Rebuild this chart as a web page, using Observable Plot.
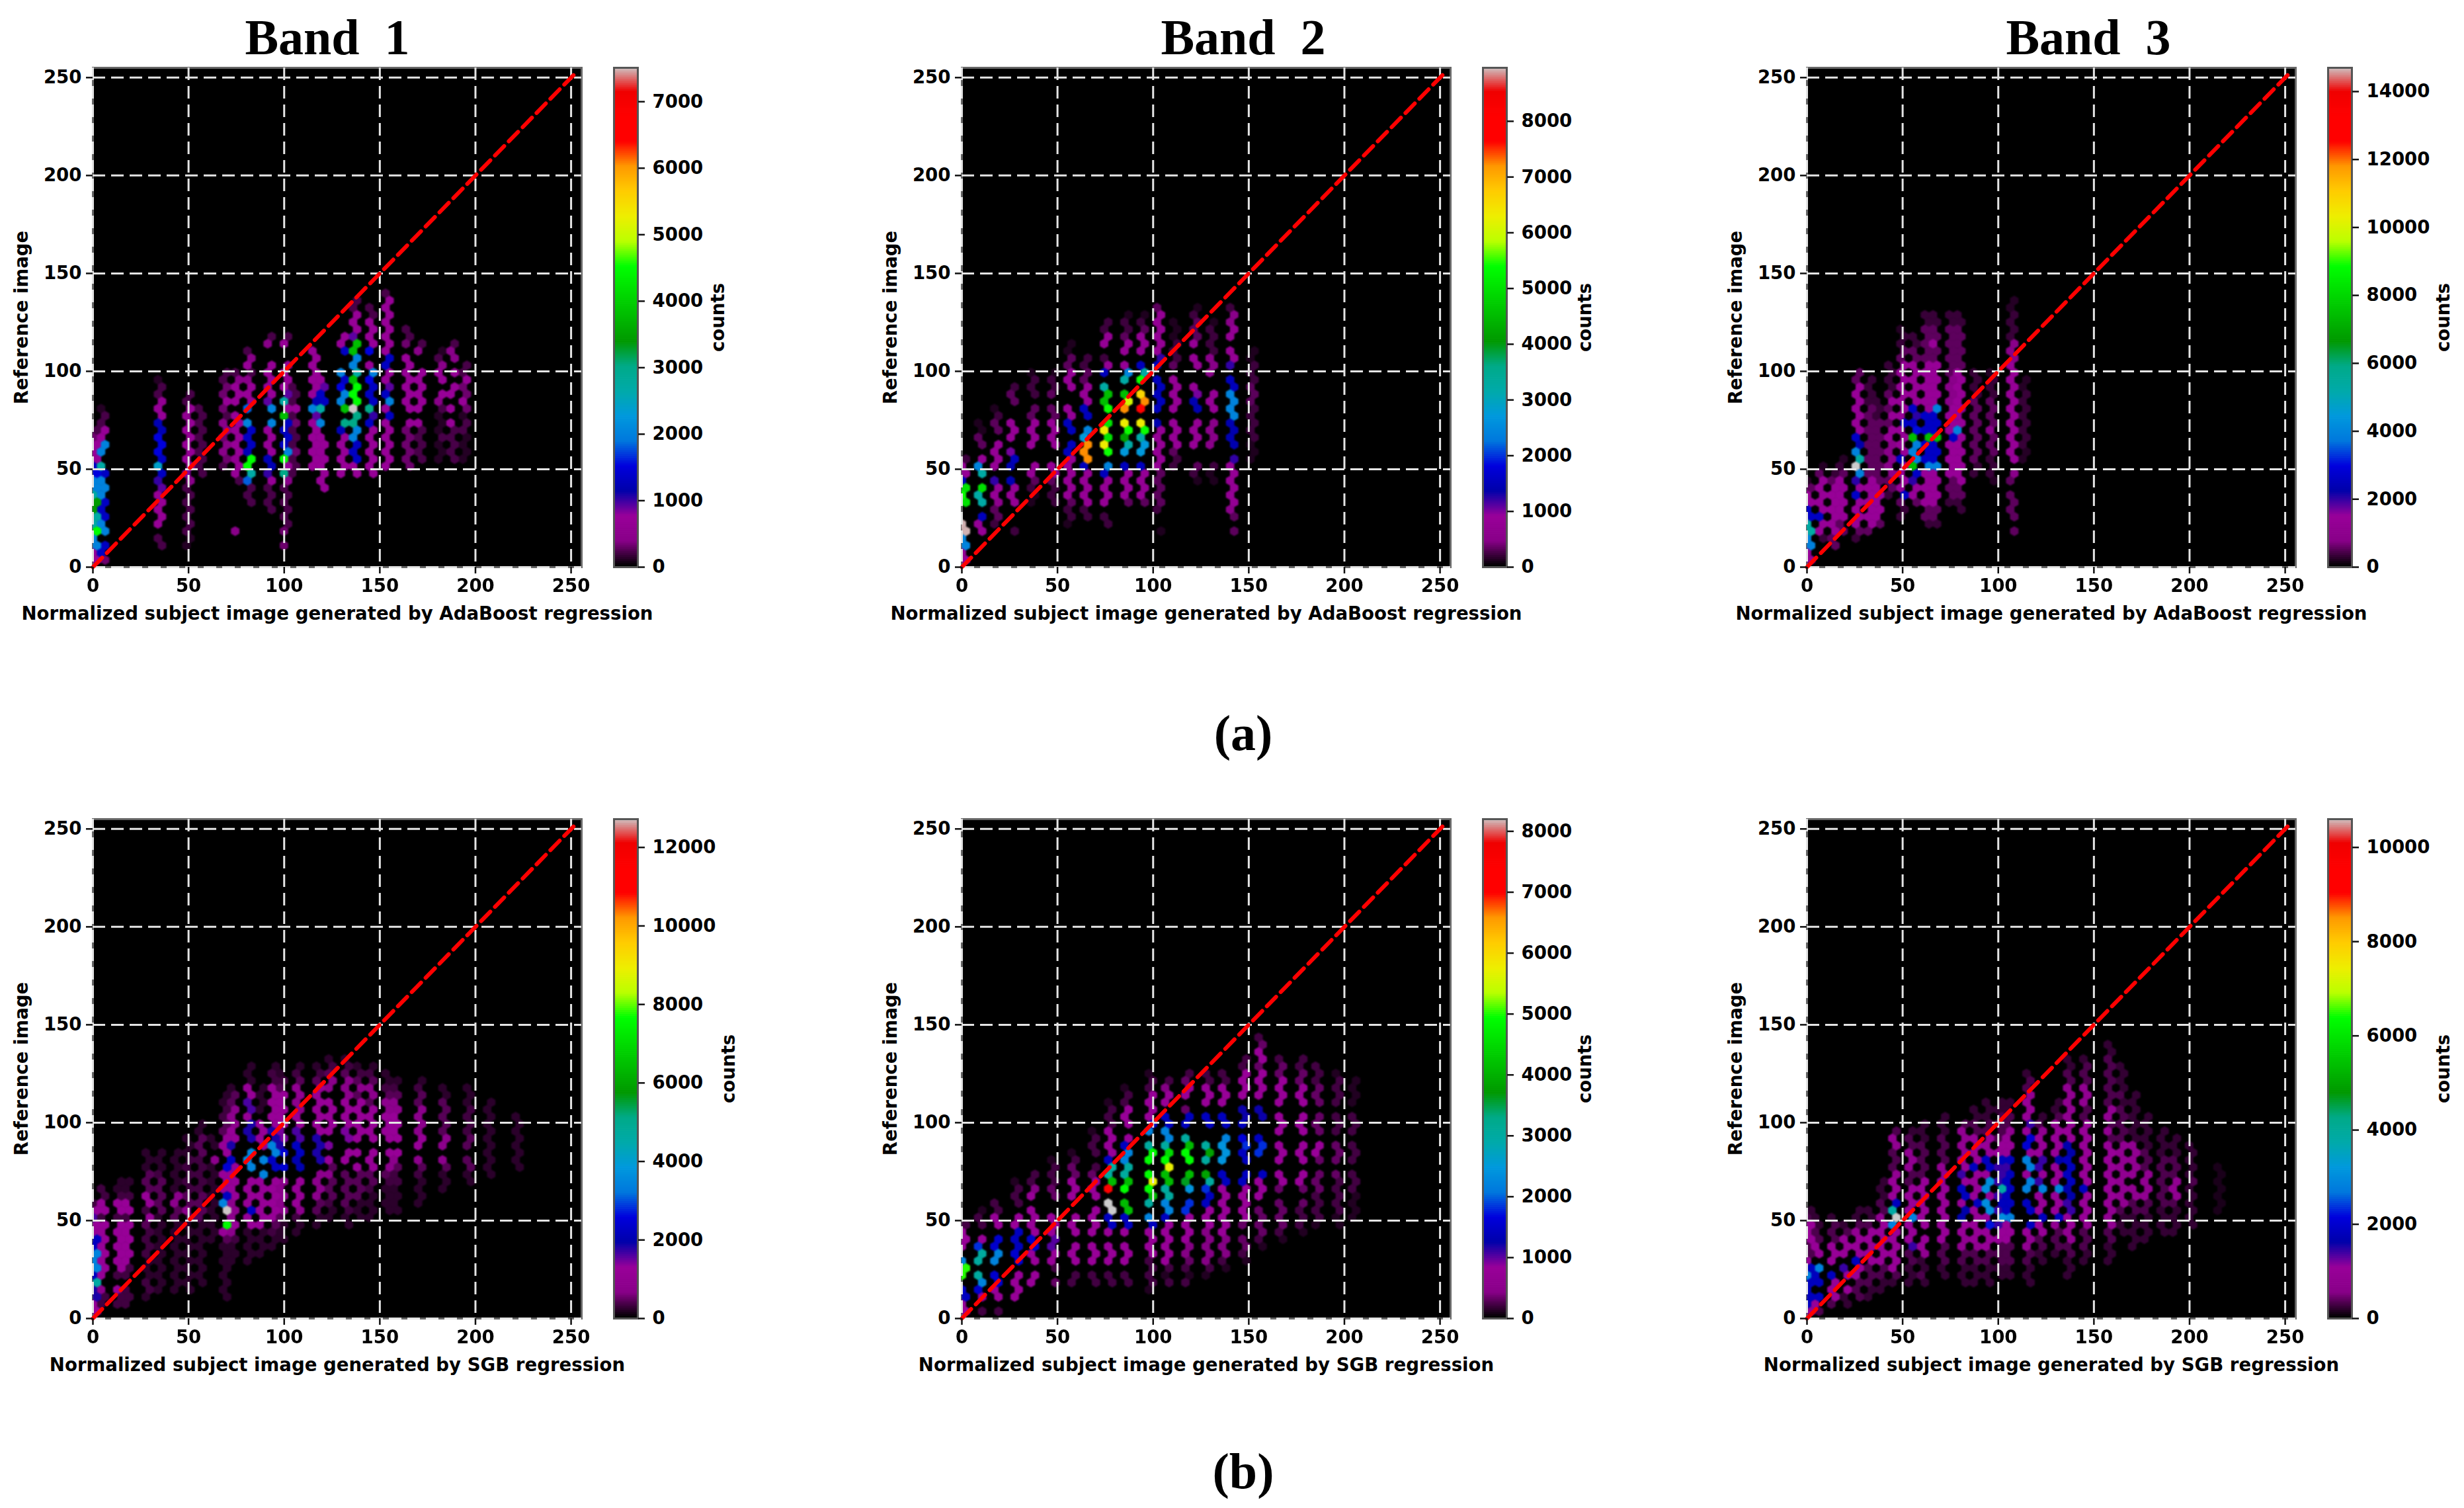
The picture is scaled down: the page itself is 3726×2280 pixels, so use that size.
<!DOCTYPE html>
<html><head><meta charset="utf-8">
<script src="https://cdn.jsdelivr.net/npm/d3@7"></script>
<script src="https://cdn.jsdelivr.net/npm/@observablehq/plot@0.6"></script>
<style>
html,body{margin:0;background:#fff}
#fig{position:relative;width:3726px;height:2280px;overflow:hidden}
#fig svg{position:absolute;overflow:visible;background:transparent}
.t{position:absolute;font-family:"Liberation Serif",serif;font-weight:700;color:#000;font-size:76px;line-height:1;white-space:pre;transform:translateX(-50%)}
</style></head><body><div id="fig"></div>
<script>
// Hexbin cells: [x centre of a column, first hexagon row, counts in hundreds, row by row]
const cellsA1=[
[1.5,1,[7,7,20,20,45,27,27,34,34,27,20,20,15,13,7,7,7,3,2]],
[5.5,1,[3,13,13,0,20,20,13,13,13,20,20,20,13,27,0,20,20,7,7,2,2,1]],
[36,3,[2,2,0,7,7,7,7,7,9,10,13,24,13,15,15,15,12,12,7,7,6,2,2,1]],
[50,3,[1,1,2,2,2,2,2,2,2,4,8,7,7,7,7,7,7,7,6,7,2,2]],
[57,13,[2,2,2,2,2,2,2,2,2,2]],
[70,14,[2,3,4,4,3,4,4,2,3,7,3,3,2,2]],
[73,5,[4]],
[75,12,[2,7,7,6,7,7,7,7,7,7,0,7,7,7,4,2]],
[82,9,[2,2,2,18,27,45,45,12,13,13,13,20,0,18,7,7,7,4,2,7,4,2]],
[92,8,[2,2,2,2,7,10,12,12,7,7,7,7,20,0,20,9,7,7,7,7,7,0,0,4,2]],
[100,3,[3,0,3,2,2,2,2,2,2,4,30,7,45,20,13,13,13,13,38,7,27,9,7,7,7,7,0,0,7,2]],
[105,13,[2,2,2,3,2,2,2,3,2,7,2,2,2]],
[116,14,[7,7,7,7,7,7,7,9,20,12,7,7,7,7,7,7,7]],
[121,11,[7,7,7,7,7,7,7,7,0,20,0,27,13,13,9,7]],
[130,13,[7,7,7,7,7,7,12,30,0,38,20,20,15,13,20,0,0,13,7,7]],
[137,13,[7,7,13,13,13,20,20,30,30,75,45,45,45,38,27,20,20,38,38,9,7,7,7,2,2]],
[146,13,[7,7,7,7,7,7,7,13,10,30,13,13,13,15,20,7,0,15,7,7,7,7,2,2]],
[153,14,[7,7,7,7,7,7,7,13,7,20,13,9,7,7,13,13,7,7,7,7,7,7,7,7,2]],
[165,14,[3,3,3,3,3,3,7,0,7,7,7,7,7,7,7,7,0,3,2,2]],
[172,15,[2,2,2,2,2,7,0,7,7,7,7,7,7,0,0,4,2]],
[181,15,[1,1,1,2,1,1,1,2,4,7,0,7,7,4,2,1]],
[187,15,[2,2,2,2,2,7,0,7,0,7,7,0,7,0,4,4,2]],
[195,15,[1,1,1,1,2,2,1,3,7,3,3,7,2,2]]];
const cellsA2=[
[2,1,[8,8,24,24,89,89,0,0,50,54,50,15,8,8,2]],
[9.5,5,[8,8,15,0,32,32,50,0,32,24,8,0,3,3,1,1]],
[18,6,[2,3,3,6,8,8,12,0,8,8,8,8,0,3,3,2,1]],
[27,5,[2,0,0,0,8,8,8,14,0,14,15,10,0,8,8,8,0,0,3,3,2]],
[36.6,9,[1,1,2,3,8,8,0,0,8,8,8,8,3,3,0,2,2,2,1]],
[47,9,[2,2,2,3,8,8,0,0,8,8,8,8,3,3,0,3,2,2,1]],
[56,6,[1,2,2,3,8,8,8,8,8,8,15,15,0,15,15,8,8,0,0,8,8,8,3,3,1,1]],
[65,7,[2,2,8,8,8,8,8,15,72,72,72,27,24,0,15,15,8,8,8,3,3,2,2]],
[75,6,[2,2,0,8,8,8,8,15,24,0,54,63,50,63,50,0,54,45,45,32,0,15,8,2,0,8,8,2,2]],
[85.4,9,[3,8,8,8,8,15,0,27,32,41,54,63,0,72,60,45,0,32,24,8,0,8,8,3,2,2,1]],
[95,9,[3,8,8,8,8,15,0,27,27,32,54,63,0,80,72,66,0,54,32,15,0,8,8,8,3,2,1]],
[103,5,[1,0,0,2,3,3,3,3,3,8,8,8,8,8,8,14,0,15,15,15,15,15,0,15,12,8,8,8,8,8,8,3]],
[112,14,[2,2,3,8,8,8,8,0,8,8,8,8,8,0,3,2,2,2,1,1,1]],
[122,12,[1,2,3,0,0,8,8,8,8,0,14,14,10,8,0,0,8,8,0,8,3,3,3,2,1]],
[131,12,[1,1,2,0,0,5,5,5,5,0,8,8,8,0,0,5,5,5,2,2,2,2,1]],
[141.5,5,[3,0,3,5,8,8,8,8,8,8,12,0,14,14,14,14,24,24,24,24,15,15,0,12,8,8,0,8,8,5,5,2]],
[152,15,[1,1,1,2,2,2,2,2,3,3,3,2,2,2,1,1]]];
const cellsA3=[
[2,1,[14,14,39,39,53,53,26,26,14,14,5,2]],
[8.3,4,[3,14,14,26,14,14,14,14,14,5,2]],
[14,3,[5,5,14,14,14,14,14,14,14,5,3]],
[18.5,5,[5,5,14,14,14,14,14,14,5,3,2]],
[26,4,[3,5,14,14,14,14,26,14,20,39,147,53,39,22,26,14,14,14,14,14,14,14,5,5]],
[32,5,[5,14,14,14,14,14,14,14,5,5,5,5,5,5,5,5,5,5,3,3,3,3]],
[37.5,6,[5,14,14,14,14,14,5,5,5,5,5,5,5,5,5,3,3,3]],
[43,10,[3,5,5,8,8,8,8,8,14,14,5,14,5,14,5,3,3,3,3]],
[50,7,[3,3,5,26,14,14,14,14,26,14,14,14,14,26,14,14,14,14,14,14,14,14,5,5,3,3,2]],
[55.7,9,[5,14,14,20,26,74,39,39,39,74,30,26,20,26,14,14,14,14,14,14,5,5,3,3]],
[63,6,[3,5,5,14,14,14,14,14,39,26,26,26,74,26,26,26,14,14,14,14,14,14,14,5,5,5,5,5,3,3]],
[67.3,6,[3,5,5,14,14,14,14,14,39,26,26,26,74,26,26,26,39,14,14,14,14,14,14,5,5,14,5,5,3,3]],
[74.6,9,[3,5,5,5,14,14,14,14,14,26,14,14,14,14,8,8,8,8,5,5,5,5,5,5,5,3,3]],
[80.5,8,[3,3,5,5,14,14,14,14,14,14,14,39,14,14,14,14,14,14,14,14,5,5,5,5,5,5,3,3]],
[89,13,[3,3,5,5,5,5,5,5,5,5,5,3,3,3,3]],
[96.5,12,[2,3,3,3,5,5,5,8,5,5,5,5,3,3,3,2]],
[107,5,[5,0,5,5,5,5,0,5,8,0,14,14,14,14,14,14,14,14,14,14,14,14,14,14,8,8,8,3,3,3,3,2,2]],
[113,15,[2,2,3,3,3,3,3,3,3,3,2,2]]];
const cellsB1=[
[2,1,[12,12,18,18,46,22,34,34,34,22,22,12,12,16,12,3]],
[6,2,[3,3,8,0,12,12,12,12,12,12,12,12,3,12,12,3,3]],
[14,2,[3,3,12,0,3,12,12,12,12,12,12,12,3,12,12,3,2,2]],
[18,2,[3,3,3,0,3,3,12,12,12,12,12,12,3,12,12,3,2,2]],
[29,3,[2,3,3,2,2,2,3,3,3,3,4,12,3,12,12,4,4,4,2,2,2]],
[36,4,[2,2,2,2,2,2,2,2,2,2,2,4,4,4,4,4,3,2,2,2]],
[43.5,4,[2,2,2,2,2,2,2,2,2,2,4,4,8,8,2,2,2,2,2,2]],
[50,4,[2,2,2,2,2,2,2,2,2,2,4,8,4,4,3,3,3,3,3,2,2,2]],
[56,5,[2,2,2,2,2,2,2,2,2,4,4,4,4,3,3,3,3,3,4,4,4,2,2]],
[62,11,[2,2,2,2,2,2,2,2,2,2,2,8,0,2,2]],
[68.5,3,[2,2,2,2,2,2,2,2,4,12,76,0,127,34,22,12,12,12,24,0,12,12,12,4,4,3,3,2,2]],
[74.3,8,[2,2,2,3,8,12,8,8,8,12,12,12,12,12,22,0,18,12,12,8,8,8,4,4,2]],
[82,8,[2,2,2,2,2,12,12,22,12,12,12,12,0,34,34,34,0,18,18,18,12,16,16,12,12,2,2,2]],
[88,9,[2,2,2,2,12,12,12,12,12,12,12,34,0,34,0,12,12,12,12,0,2,2,2,2]],
[94.7,10,[2,2,3,4,12,12,12,12,12,12,0,22,22,34,34,18,18,12,12,12,12,12,12,3,3,2]],
[99.3,11,[2,2,2,4,8,8,8,8,8,0,24,0,24,18,14,14,12,12,12,12,12,4,3,2]],
[107,12,[2,2,3,8,12,12,12,12,0,20,20,22,22,16,16,12,12,8,8,10,10,4,3,2]],
[117,13,[2,2,4,4,8,8,8,8,0,18,18,18,18,12,12,12,12,12,12,12,4,3,2]],
[124,14,[2,2,3,4,4,4,8,4,12,0,14,0,12,12,12,12,12,0,8,8,4,3,2]],
[132,13,[2,2,3,4,4,4,4,4,0,12,12,0,14,14,12,12,12,12,8,8,8,4,3,2]],
[139,14,[2,2,2,4,4,4,4,12,0,12,0,12,12,12,12,12,12,4,8,4,3,2]],
[146,14,[2,2,2,2,3,4,4,12,12,12,0,12,12,12,12,12,4,8,8,4,3,2]],
[153,15,[2,2,2,2,3,4,8,0,12,0,12,12,12,12,8,8,4,3,2,2]],
[158,15,[2,2,2,2,3,3,4,8,12,0,12,12,12,12,8,8,4,3,2]],
[170,16,[2,2,2,2,3,4,8,0,12,12,8,8,8,8,4,4,3,2]],
[183,18,[2,2,2,4,8,0,8,8,4,4,4,4,4,2,2]],
[197,19,[2,2,4,4,0,4,4,3,3,3,3,2,2,2]],
[207,20,[2,2,2,2,2,2,2,2,2,2,2]],
[222,21,[2,2,2,2,2,2,2,2]]];
const cellsB2=[
[2,1,[8,8,14,15,0,50,50,22,0,8,8,8,2]],
[9,1,[2,0,8,15,22,30,0,30,30,18,8,0,2,2,1]],
[19,1,[2,0,8,8,15,15,0,22,22,15,15,0,8,8,2,2]],
[28.5,3,[8,8,8,8,0,15,15,14,14,14,8,8,0,2,2,2,1]],
[38,5,[8,8,0,8,8,15,15,8,8,8,8,0,8,4,2,2]],
[48.6,5,[3,0,2,8,8,10,10,8,8,8,0,0,3,3,2,2,2,1]],
[58,5,[2,2,0,8,8,8,0,8,8,8,0,0,8,8,8,3,3,2,1]],
[70,5,[2,2,0,8,8,8,0,8,8,8,8,0,8,8,8,3,2,0,2,2,2,1]],
[78,5,[2,2,0,8,8,8,0,8,14,14,82,82,0,74,41,30,30,14,8,8,8,8,2,2,2,1]],
[87,5,[2,2,0,8,8,8,0,8,14,14,41,41,0,49,41,30,30,22,22,14,8,0,8,8,8,2,2,1]],
[98,4,[1,2,2,2,2,8,8,8,8,14,22,0,30,41,49,57,49,0,49,49,30,0,22,14,8,8,8,8,2,2,1]],
[108,5,[2,1,2,8,8,8,8,8,8,14,22,22,30,30,41,41,57,49,45,30,22,22,14,14,0,8,8,4,2]],
[117,5,[2,1,2,3,4,4,8,8,8,8,18,18,0,24,36,41,0,49,49,41,30,0,14,14,3,0,8,8,3,2]],
[128,6,[1,2,4,4,4,4,4,8,8,8,14,14,18,30,38,0,30,38,30,0,0,14,14,0,8,8,8,2,2]],
[137,7,[1,2,4,4,4,8,8,8,8,8,8,8,14,14,0,24,24,24,22,0,14,14,0,8,8,8,2,2]],
[147,8,[1,2,3,3,0,3,8,8,8,8,8,14,14,0,14,14,18,16,0,14,12,12,0,8,8,8,8,2,2]],
[156,10,[1,2,3,3,3,3,0,8,8,8,14,0,0,18,18,14,0,0,12,12,0,8,8,8,8,3,8,8,3,2]],
[167,11,[1,2,3,3,3,3,0,3,8,8,0,8,8,8,0,8,8,8,0,8,8,8,8,3,3,2]],
[177,12,[1,2,2,2,3,0,3,8,8,0,8,8,8,0,8,8,8,0,8,8,8,3,3,2,2]],
[186,13,[1,2,2,2,2,3,3,3,0,3,8,8,0,3,3,3,0,3,3,3,2,2,2]],
[196,13,[1,1,2,2,2,2,2,3,0,3,3,3,0,2,2,2,0,2,2,2,2,1]],
[205,14,[1,1,1,1,2,2,2,0,2,2,2,0,2,2,2,0,1,1,1,1]]];
const cellsB3=[
[2,1,[10,18,18,18,18,28,18,10,3,3,10,10,10,3,2]],
[6,1,[3,10,18,0,18,18,28,0,10,10,3,3,2,2]],
[14,2,[3,10,10,10,18,0,10,10,10,3,3,3,2]],
[20,2,[2,2,10,0,10,14,0,10,10,10,3,2]],
[27,3,[3,3,3,10,10,18,10,10,10,8,3,2,2]],
[33,3,[2,2,3,3,3,10,10,10,10,10,3,2,2]],
[39,4,[2,2,3,3,10,10,10,10,10,10,8,3,3,2,2,2]],
[46,5,[2,3,10,10,10,10,10,10,28,106,38,18,10,10,10,8,3,3,3,8,8,3]],
[54,5,[2,2,2,3,3,14,10,10,10,28,10,10,10,10,3,3,8,8,8,3,3,2]],
[60.7,5,[2,3,2,2,8,10,10,0,10,10,10,10,10,10,10,3,3,3,3,3,2,2,2]],
[71.5,6,[2,2,3,3,3,10,10,10,10,10,10,10,10,10,8,8,3,3,3,3,2,2,2]],
[82.4,5,[2,2,2,3,3,8,8,10,10,16,16,10,18,18,10,14,10,10,8,8,8,8,3]],
[89,5,[2,2,2,3,3,8,10,10,10,10,10,18,10,10,10,10,18,10,10,10,10,3,3,2,2]],
[95,5,[2,2,2,3,3,10,10,10,22,10,30,30,10,30,30,10,18,18,10,10,10,3,3,2,2,2]],
[100,6,[2,2,3,3,3,10,10,14,30,14,18,14,38,14,14,14,18,10,10,3,3,3,3,2,2]],
[106,6,[2,2,3,3,3,10,10,10,28,18,18,18,18,18,18,14,18,10,10,10,8,3,3,2,2]],
[116,5,[2,2,2,3,3,8,8,10,18,0,18,18,0,28,28,10,28,28,10,20,20,10,14,10,10,10,8,3,3,2]],
[123,8,[2,2,3,3,10,10,18,10,10,10,28,14,10,14,14,10,10,10,8,3,2]],
[131,9,[2,3,3,3,8,18,10,10,10,28,10,10,10,16,10,10,10,10,8,3,2,2]],
[138,6,[2,2,2,3,3,8,8,10,10,14,14,16,16,18,18,18,18,16,16,10,10,8,8,8,8,8,8,3,3,2,2]],
[146,8,[2,2,3,3,3,8,10,10,10,10,18,10,10,10,10,10,10,10,10,10,3,3,8,8,8,3,3,3,2]],
[158.6,8,[2,2,2,3,3,8,8,8,10,10,10,10,10,10,10,10,10,3,8,3,8,8,3,3,3,3,3,3,3,2,2]],
[164.6,12,[2,2,2,3,8,8,8,8,8,8,8,8,8,3,3,3,3,3,2,3,2,2,2,2]],
[171,10,[2,2,2,2,2,3,3,8,8,0,8,8,8,8,8,2,2,2,2,2,2,2]],
[178,11,[2,2,2,2,3,3,8,8,8,8,3,3,3,2,2,2,2,2]],
[185,12,[2,2,2,2,3,3,3,3,3,3,3,2,2,2,2]],
[193,12,[2,2,2,2,3,8,8,8,3,3,3,2,2,2]],
[200,13,[2,2,2,2,2,2,3,2,2,2,2,2]],
[215,15,[1,1,1,1,1,1,1]]];

const axisTicks=[0,50,100,150,200,250];
const diagonal=[0,253];
const barTicksA1=[0,1000,2000,3000,4000,5000,6000,7000];
const barTicksA2=[0,1000,2000,3000,4000,5000,6000,7000,8000];
const barTicksA3=[0,2000,4000,6000,8000,10000,12000,14000];
const barTicksB1=[0,2000,4000,6000,8000,10000,12000];
const barTicksB2=[0,1000,2000,3000,4000,5000,6000,7000,8000];
const barTicksB3=[0,2000,4000,6000,8000,10000];
const barMax={A1:7510,A2:8960,A3:14700,B1:12720,B2:8200,B3:10600};
const xLabelA="Normalized subject image generated by AdaBoost regression";
const xLabelB="Normalized subject image generated by SGB regression";
const yLabel="Reference image", barLabel="counts";
const bandTitles=["Band  1","Band  2","Band  3"];
// colormap stops as seen on the colour bars
const cmapStops=[0,.05,.1,.15,.2,.25,.3,.35,.4,.45,.5,.55,.6,.65,.7,.75,.8,.85,.9,.95,1];
const cmapColors=["#000000","#880088","#990099","#0000aa","#0000dd","#0077dd","#0099dd","#00aaaa","#00aa88","#009900","#00bb00","#00dd00","#00ff00","#bbff00","#eeee00","#ffcc00","#ff9900","#ff0000","#ff0000","#f00000","#cccccc"];

const rowStep=3.68, colStep=4.25;
function expand(chains){
  const out=[];
  for(const [x,r0,vals] of chains) vals.forEach((v,i)=>{
    if(!v) return;
    const r=r0+i, off=r%2?colStep/2:0;
    out.push({x:Math.round((x-off)/colStep)*colStep+off,y:r*rowStep,count:v*100});
  });
  return d3.sort(out,d=>d.count);
}
const font={fontFamily:"'DejaVu Sans',sans-serif",fontWeight:700,fontSize:"27.6px",background:"transparent",overflow:"visible"};
const panels=[
 {k:"A1",left:140,top:102,cells:cellsA1,ticks:barTicksA1,xl:xLabelA,cx:946},
 {k:"A2",left:1454,top:102,cells:cellsA2,ticks:barTicksA2,xl:xLabelA,cx:943},
 {k:"A3",left:2732,top:102,cells:cellsA3,ticks:barTicksA3,xl:xLabelA,cx:963},
 {k:"B1",left:140,top:1238,cells:cellsB1,ticks:barTicksB1,xl:xLabelB,cx:962},
 {k:"B2",left:1454,top:1238,cells:cellsB2,ticks:barTicksB2,xl:xLabelB,cx:943},
 {k:"B3",left:2732,top:1238,cells:cellsB3,ticks:barTicksB3,xl:xLabelB,cx:963}];
const fig=document.getElementById("fig");
const W=739,H=755,mL=141,mT=20,mR=120,mB=110;
function place(svg,l,t){svg.style.left=l+"px";svg.style.top=t+"px";fig.appendChild(svg);}
for(const p of panels){
  const max=barMax[p.k];
  const color={type:"linear",domain:cmapStops.map(s=>s*max),range:cmapColors,interpolate:"rgb"};
  const gridStyle={stroke:"#e4e4e4",strokeWidth:3,strokeDasharray:"19 9"};
  const chart=Plot.plot({
    width:mL+W+mR,height:mT+H+mB,marginLeft:mL,marginTop:mT,marginRight:mR,marginBottom:mB,
    style:font,
    x:{domain:[0,255.5]},y:{domain:[0,255]},color,
    marks:[
      Plot.frame({fill:"black",stroke:"#666",strokeWidth:3}),
      Plot.hexagon(expand(p.cells),{x:"x",y:"y",fill:"count",r:6.4,stroke:"none",clip:"frame"}),
      Plot.ruleX(axisTicks,{x:d=>d,...gridStyle}),
      Plot.ruleY(axisTicks,{y:d=>d,...gridStyle}),
      Plot.line(diagonal,{x:d=>d,y:d=>d,stroke:"#ff0000",strokeWidth:6,strokeDasharray:"20 10"}),
      Plot.axisX({ticks:axisTicks,tickSize:10,tickPadding:8,tickFormat:d=>String(d),label:p.xl,labelAnchor:"center",labelArrow:"none",labelOffset:79,stroke:"#111",strokeWidth:2.5}),
      Plot.axisY({ticks:axisTicks,tickSize:10,tickPadding:7,tickFormat:d=>String(d),label:yLabel,labelAnchor:"center",labelArrow:"none",labelOffset:118,stroke:"#111",strokeWidth:2.5})
    ]});
  chart.querySelectorAll('[aria-label="dot"]').forEach(g=>g.style.filter="blur(1.1px)");
  place(chart,p.left-mL,p.top-mT);
  const swatches=d3.range(0,256).map(i=>i/256*max);
  const bar=Plot.plot({
    width:36+mR,height:mT+H+mB,marginLeft:0,marginTop:mT,marginRight:mR,marginBottom:mB,
    style:font,
    x:{domain:[0,1],axis:null},y:{domain:[0,max]},color,
    marks:[
      Plot.rect(swatches,{x1:0,x2:1,y1:d=>d,y2:d=>d+max/256+max/1000,fill:d=>d}),
      Plot.frame({stroke:"#555",strokeWidth:3}),
      Plot.axisY({anchor:"right",ticks:p.ticks,tickSize:10,tickPadding:12,tickFormat:d=>String(d),label:null,stroke:"#111",strokeWidth:2.5}),
      Plot.text([barLabel],{text:d=>d,frameAnchor:"middle",rotate:-90,dx:p.cx-788-18,fontSize:27.6,fontWeight:700})
    ]});
  place(bar,p.left+788,p.top-mT);
}
const cols=[495,1880,3158];
bandTitles.forEach((s,i)=>{const d=document.createElement("div");d.className="t";d.textContent=s;d.style.left=cols[i]+"px";d.style.top="18px";fig.appendChild(d);});
[["(a)",1110],["(b)",2226]].forEach(([s,y])=>{const d=document.createElement("div");d.className="t";d.textContent=s;d.style.left="1880px";d.style.top=(y-40)+"px";fig.appendChild(d);});
</script></body></html>
